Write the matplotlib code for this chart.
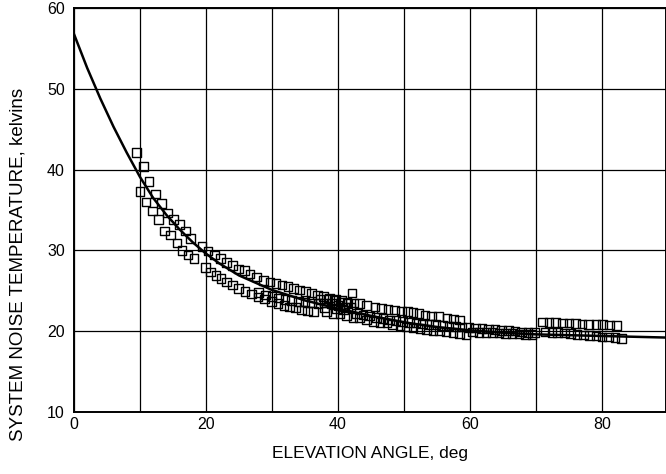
import matplotlib
matplotlib.use("Agg")
import matplotlib.pyplot as plt
from matplotlib.ticker import MultipleLocator

plt.rcParams["font.family"] = ["Liberation Sans", "DejaVu Sans"]

# ---------- Data ----------
# fitted curve
curve_x = [0, 2, 4, 6, 8, 10, 12, 14, 16, 18, 20, 22, 25, 30, 35, 40, 45, 50, 55, 60, 65, 70, 80, 90]
curve_y = [56.8, 52.6, 48.8, 45.3, 42.1, 39.1, 36.5, 34.4, 32.6, 31.0, 29.6, 28.4, 26.9, 25.1,
           23.8, 22.8, 21.9, 21.1, 20.5, 20.1, 19.8, 19.6, 19.4, 19.2]

# measured points, upper pass
upper_x = [9.5, 10.5, 11.4, 12.4, 13.3, 14.2, 15.1, 16.0, 16.9, 17.7, 19.4, 20.3, 21.3, 22.2,
           23.1, 24.0, 24.9, 25.8, 26.7, 27.7, 28.7, 29.7, 30.6, 31.5, 32.4, 33.3, 34.2, 35.1,
           36.0, 36.9, 37.8, 38.7, 39.6, 40.5, 41.4]
upper_y = [42.1, 40.4, 38.5, 37.0, 35.8, 34.6, 33.8, 33.2, 32.4, 31.5, 30.5, 29.9, 29.4, 29.0,
           28.5, 28.1, 27.7, 27.5, 27.1, 26.7, 26.3, 26.1, 25.9, 25.7, 25.5, 25.3, 25.1, 24.9,
           24.7, 24.5, 24.3, 24.1, 23.9, 23.8, 23.6]

# measured points, lower pass
lower_x = [10.0, 10.9, 11.9, 12.8, 13.7, 14.6, 15.6, 16.4, 17.3, 18.2, 19.9, 20.7, 21.5, 22.3,
           23.1, 24.0, 24.9, 25.9, 26.9, 27.9, 28.9, 29.9, 30.9, 31.8, 32.7, 33.6, 34.5, 35.4, 36.3]
lower_y = [37.3, 36.0, 34.9, 33.8, 32.4, 31.9, 30.9, 30.0, 29.4, 29.0, 27.9, 27.3, 26.9, 26.5,
           26.1, 25.7, 25.3, 24.9, 24.6, 24.2, 24.0, 23.7, 23.4, 23.2, 23.0, 22.9, 22.6, 22.5, 22.4]

mid_x = [28.0, 29.0, 30.0, 31.0, 32.0, 33.0, 34.0, 35.0, 36.0, 37.0]
mid_y = [24.8, 24.5, 24.3, 24.1, 23.9, 23.8, 23.7, 23.6, 23.5, 23.4]

cluster_x = [37.3, 37.9, 38.5, 39.0, 39.5, 40.0, 40.5, 41.0, 41.5, 42.0, 42.1, 39.8, 40.8, 38.0]
cluster_y = [23.9, 23.5, 24.0, 23.4, 23.8, 23.2, 23.6, 23.0, 23.4, 22.9, 24.7, 22.8, 22.6, 22.9]

upper2_x = [42.4, 43.3, 44.3, 45.6, 46.6, 47.6, 48.6, 49.6, 50.5, 51.4, 52.3, 53.2, 54.2, 55.2,
            56.5, 57.5, 58.4]
upper2_y = [23.5, 23.4, 23.2, 23.0, 22.8, 22.7, 22.6, 22.5, 22.4, 22.3, 22.2, 22.0, 21.9, 21.8,
            21.6, 21.5, 21.4]

mid2_x = [42.8, 43.8, 44.8, 45.8, 46.8, 47.8, 48.8, 49.8, 50.8, 51.8, 52.8, 53.8, 54.8, 55.8,
          56.8, 57.8, 58.8, 59.8, 60.8, 61.8, 62.8, 63.8, 64.8, 65.8, 66.8, 67.8, 68.8, 69.8]
mid2_y = [22.2, 22.0, 21.85, 21.7, 21.55, 21.4, 21.3, 21.2, 21.1, 21.0, 20.9, 20.85, 20.8, 20.7,
          20.65, 20.6, 20.5, 20.45, 20.4, 20.3, 20.25, 20.2, 20.1, 20.05, 20.0, 19.9, 19.85, 19.8]

lower2_x = [38.3, 39.3, 40.3, 41.3, 42.3, 43.3, 44.3, 45.4, 46.4, 47.4, 48.3, 49.4, 50.4, 51.4,
            52.4, 53.4, 54.4, 55.4, 56.4, 57.4, 58.4, 59.4, 60.4, 61.4, 62.4, 63.4, 64.4, 65.4,
            66.4, 67.4, 68.4, 69.4]
lower2_y = [22.4, 22.2, 22.1, 21.85, 21.7, 21.6, 21.4, 21.2, 21.1, 21.0, 20.8, 20.7, 20.5, 20.4,
            20.3, 20.2, 20.1, 20.0, 19.9, 19.8, 19.7, 19.6, 19.9, 19.85, 19.8, 19.8, 19.75, 19.7,
            19.7, 19.65, 19.6, 19.6]

right_up_x = [71.0, 72.0, 73.0, 74.0, 75.0, 76.0, 77.0, 78.0, 79.1, 80.1, 81.1, 82.2]
right_up_y = [21.15, 21.1, 21.05, 21.0, 21.0, 20.95, 20.9, 20.85, 20.8, 20.8, 20.75, 20.7]

right_lo_x = [71.4, 72.4, 73.3, 74.3, 75.2, 76.2, 77.2, 78.1, 79.1, 80.0, 81.0, 82.0, 83.0]
right_lo_y = [19.9, 19.85, 19.8, 19.75, 19.7, 19.6, 19.5, 19.45, 19.4, 19.3, 19.25, 19.2, 19.1]

point_sets = [(upper_x, upper_y), (lower_x, lower_y), (mid_x, mid_y), (cluster_x, cluster_y),
              (upper2_x, upper2_y), (mid2_x, mid2_y), (lower2_x, lower2_y),
              (right_up_x, right_up_y), (right_lo_x, right_lo_y)]

x_ticks = [0, 20, 40, 60, 80]
y_ticks = [10, 20, 30, 40, 50, 60]

# ---------- Figure ----------
fig = plt.figure(figsize=(6.66, 4.74), dpi=100)
ax = fig.add_axes([0.111, 0.131, 0.889, 0.852])

for xs, ys in point_sets:
    ax.scatter(xs, ys, marker="s", s=38, facecolors="none", edgecolors="black",
               linewidths=1.0, zorder=3)

ax.plot(curve_x, curve_y, color="black", lw=1.8, zorder=4)

ax.set_xlim(0, 89.7)
ax.set_ylim(10, 60)
ax.set_xticks(x_ticks)
ax.set_yticks(y_ticks)
ax.xaxis.set_minor_locator(MultipleLocator(10))
ax.grid(True, which="both", color="black", lw=0.9)
ax.set_axisbelow(True)
ax.tick_params(which="both", length=0, labelsize=11.5)
ax.tick_params(axis="x", pad=4)
ax.tick_params(axis="y", pad=6.5)
for s in ax.spines.values():
    s.set_linewidth(1.4)

ax.set_xlabel("ELEVATION ANGLE, deg", fontsize=12.5, labelpad=10)
ax.set_ylabel("SYSTEM NOISE TEMPERATURE, kelvins", fontsize=13.5)
ax.yaxis.set_label_coords(-0.08, 0.364)

fig.savefig("out.png", dpi=100)
